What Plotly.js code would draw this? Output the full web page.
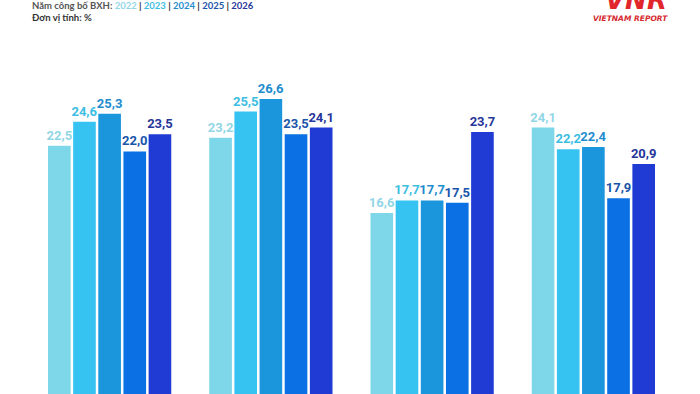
<!DOCTYPE html>
<html>
<head>
<meta charset="utf-8">
<script src="https://cdn.plot.ly/plotly-3.0.1.min.js"></script>
<style>html,body{margin:0;padding:0;background:#fff;}#chart{width:700px;height:394px;}</style>
</head>
<body>
<div id="chart"></div>
<script>
const categories = ["Nhóm 1", "Nhóm 2", "Nhóm 3", "Nhóm 4"];
const years = ["2022", "2023", "2024", "2025", "2026"];
const v2022 = [22.5, 23.2, 16.6, 24.1];
const v2023 = [24.6, 25.5, 17.7, 22.2];
const v2024 = [25.3, 26.6, 17.7, 22.4];
const v2025 = [22.0, 23.5, 17.5, 17.9];
const v2026 = [23.5, 24.1, 23.7, 20.9];

const series = [v2022, v2023, v2024, v2025, v2026];
const barColors = ["#7ed7e8", "#37c3f1", "#1b95dc", "#0a70e4", "#1f3bd3"];
const labelColors = ["#92d6e6", "#3cbde2", "#1f8cce", "#1a55aa", "#27369a"];

const labelFont = "Roboto, 'Liberation Sans', sans-serif";

const traces = series.map((vals, i) => ({
  type: "bar",
  name: years[i],
  x: categories,
  y: vals,
  marker: {color: barColors[i]},
  text: vals,
  texttemplate: "%{y:.1f}",
  textposition: "outside",
  constraintext: "none",
  cliponaxis: false,
  textfont: {family: labelFont, size: 13, color: labelColors[i], weight: 700},
  hoverinfo: "skip"
}));

const headerFont = "Lato, 'Open Sans', sans-serif";
const sep = '<span style="color:#333333"> | </span>';
const headerText = '<span style="color:#555555">Năm công bố BXH: </span>' +
  years.map((y, i) => '<span style="color:' + labelColors[i] + '">' + y + '</span>').join(sep);

const layout = {
  width: 700,
  height: 394,
  margin: {l: 29, r: 26, t: 0, b: 0, pad: 0},
  paper_bgcolor: "#ffffff",
  plot_bgcolor: "#ffffff",
  separators: ", ",
  barmode: "group",
  bargap: 0.22,
  bargroupgap: 0.1,
  showlegend: false,
  xaxis: {showticklabels: false, showgrid: false, zeroline: false, showline: false, ticks: ""},
  yaxis: {range: [0.7, 35.3], showticklabels: false, showgrid: false, zeroline: false, showline: false, ticks: ""},
  annotations: [
    {xref: "paper", yref: "paper", x: 0.0015, y: 1.0, xanchor: "left", yanchor: "middle",
     yshift: -5, xshift: 0, text: headerText, showarrow: false,
     font: {family: headerFont, size: 9.5, color: "#555555", weight: 700}},
    {xref: "paper", yref: "paper", x: 0.0015, y: 1.0, xanchor: "left", yanchor: "middle",
     yshift: -17, text: "Đơn vị tính: %", showarrow: false,
     font: {family: headerFont, size: 9.5, color: "#333333", weight: 700}},
    {xref: "paper", yref: "paper", x: 0.941, y: 1.0, xanchor: "center", yanchor: "middle",
     yshift: 0, text: "<i>VNR</i>", showarrow: false,
     font: {family: "'DejaVu Sans', sans-serif", size: 26, color: "#e1262b", weight: 900}},
    {xref: "paper", yref: "paper", x: 0.933, y: 1.0, xanchor: "center", yanchor: "middle",
     yshift: -18, text: "<i>VIETNAM REPORT</i>", showarrow: false,
     font: {family: "'DejaVu Sans', sans-serif", size: 7.5, color: "#d62a30", weight: 700}}
  ]
};

Plotly.newPlot("chart", traces, layout, {displayModeBar: false, staticPlot: true});
</script>
</body>
</html>
